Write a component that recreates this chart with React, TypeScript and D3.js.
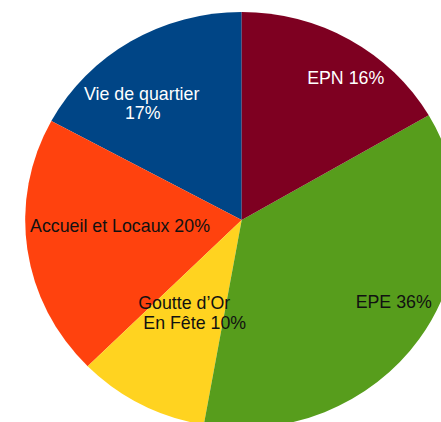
import React from "react";
import * as d3 from "d3";

const categories = ["Vie de quartier", "Accueil et Locaux", "Goutte d'Or En Fête", "EPE", "EPN"];
const values = [17.1, 20.3, 9.8, 36.2, 16.6];
const percentLabels = ["17%", "20%", "10%", "36%", "16%"];
const colors = ["#004586", "#ff420e", "#ffd320", "#579d1c", "#7e0021"];
const textColors = ["#ffffff", "#111111", "#111111", "#111111", "#ffffff"];

// label lines (text) and layout relative to pie centre: [x centre, baseline y]
const labelLines = [
  ["Vie de quartier", "17%"],
  ["Accueil et Locaux 20%"],
  ["Goutte d\u2019Or", "En Fête 10%"],
  ["EPE 36%"],
  ["EPN 16%"],
];
const labelLayout: [number, number][][] = [
  [[-100, -120], [-99, -101.5]],
  [[-121.7, 11.5]],
  [[-57.5, 89], [-47, 108.5]],
  [[152, 88.3]],
  [[104, -135.7]],
];

export default function App() {
  const W = 441, H = 422;
  const cx = 241.7, cy = 220;
  const rx = 216.5, ry = 208;

  const pie = d3.pie<number>().sort(null).value((d) => d)
    .startAngle(0).endAngle(-2 * Math.PI);
  const arcs = pie(values);
  const arc = d3.arc<d3.PieArcDatum<number>>().innerRadius(0).outerRadius(rx);

  return (
    <svg width={W} height={H} style={{ position: "absolute", left: 0, top: 0, background: "#fff" }}>
      <g transform={`translate(${cx},${cy}) scale(1,${ry / rx})`}>
        {arcs.map((a, i) => (
          <path key={categories[i]} d={arc(a) || ""} fill={colors[i]} />
        ))}
      </g>
      <g transform={`translate(${cx},${cy})`} fontFamily="'Liberation Sans', Arial, sans-serif" fontSize={17.8}>
        {labelLines.map((lines, i) =>
          lines.map((t, j) => (
            <text key={`${i}-${j}`} x={labelLayout[i][j][0]} y={labelLayout[i][j][1]}
              textAnchor="middle" fill={textColors[i]}>{t}</text>
          ))
        )}
      </g>
    </svg>
  );
}
